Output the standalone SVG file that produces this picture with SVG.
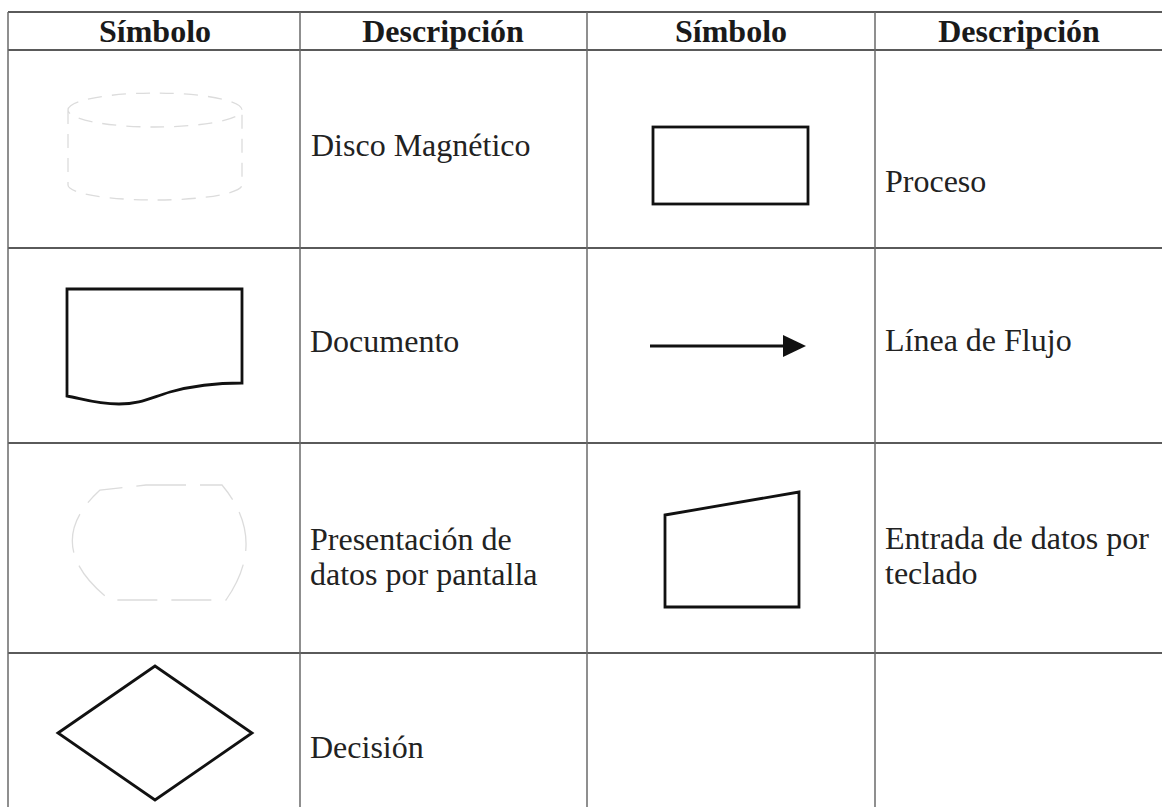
<svg xmlns="http://www.w3.org/2000/svg" width="1162" height="807" viewBox="0 0 1162 807">
<style>
.grid-h{stroke:#5a5a5a;stroke-width:2;fill:none}
.grid-v{stroke:#6a6a6a;stroke-width:1.5;fill:none}
.hdr{font-family:"Liberation Serif",serif;font-weight:bold;font-size:32px;fill:#1a1a1a;text-anchor:middle}
.txt{font-family:"Liberation Serif",serif;font-size:32px;fill:#222}
.sym{fill:none;stroke:#111;stroke-width:2.8;stroke-linejoin:miter}
.faint{fill:none;stroke:#dcdcdc;stroke-width:1.3}
</style>
<rect width="1162" height="807" fill="#ffffff"/>
<g id="grid">
<line class="grid-h" x1="8" y1="12" x2="1162" y2="12"/>
<line class="grid-h" x1="8" y1="50" x2="1162" y2="50"/>
<line class="grid-h" x1="8" y1="248" x2="1162" y2="248"/>
<line class="grid-h" x1="8" y1="443" x2="1162" y2="443"/>
<line class="grid-h" x1="8" y1="653" x2="1162" y2="653"/>
<line class="grid-v" x1="8" y1="12" x2="8" y2="807"/>
<line class="grid-v" x1="300" y1="12" x2="300" y2="807"/>
<line class="grid-v" x1="587" y1="12" x2="587" y2="807"/>
<line class="grid-v" x1="875" y1="12" x2="875" y2="807"/>
</g>
<g id="header">
<text class="hdr" x="155" y="42">Símbolo</text>
<text class="hdr" x="443" y="42">Descripción</text>
<text class="hdr" x="731" y="42">Símbolo</text>
<text class="hdr" x="1019" y="42">Descripción</text>
</g>
<g id="disco">
<path class="faint" stroke-dasharray="14 10" d="M68,110 A87,17 0 1 1 242,110 A87,17 0 1 1 68,110 Z M68,110 V185 A87,15 0 0 0 242,185 V110"/>
<text class="txt" x="311" y="156">Disco Magnético</text>
</g>
<g id="proceso">
<rect class="sym" x="653" y="127" width="155" height="77"/>
<text class="txt" x="885" y="192">Proceso</text>
</g>
<g id="documento">
<path class="sym" d="M67,289 H242 V383 C215,383 195,385 170,392 C150,398 140,404 119,404 C95,404 80,398 67,396 Z"/>
<text class="txt" x="310" y="352">Documento</text>
</g>
<g id="linea-flujo">
<line x1="650" y1="346" x2="786" y2="346" stroke="#111" stroke-width="3"/>
<polygon points="783,335 806,346 783,357" fill="#111"/>
<text class="txt" x="885" y="351">Línea de Flujo</text>
</g>
<g id="pantalla">
<path class="faint" stroke-dasharray="40 14" d="M146,485 H222 Q268,540 226,600 H110 Q40,545 100,490 Z"/>
<text class="txt" x="310" y="550">Presentación de</text>
<text class="txt" x="310" y="585">datos por pantalla</text>
</g>
<g id="teclado">
<polygon class="sym" points="665,515 799,492 799,607 665,607"/>
<text class="txt" x="885" y="549">Entrada de datos por</text>
<text class="txt" x="885" y="584">teclado</text>
</g>
<g id="decision">
<polygon class="sym" points="58,733 155,666 252,733 155,800"/>
<text class="txt" x="310" y="758">Decisión</text>
</g>
<g id="connectors"></g>
</svg>
